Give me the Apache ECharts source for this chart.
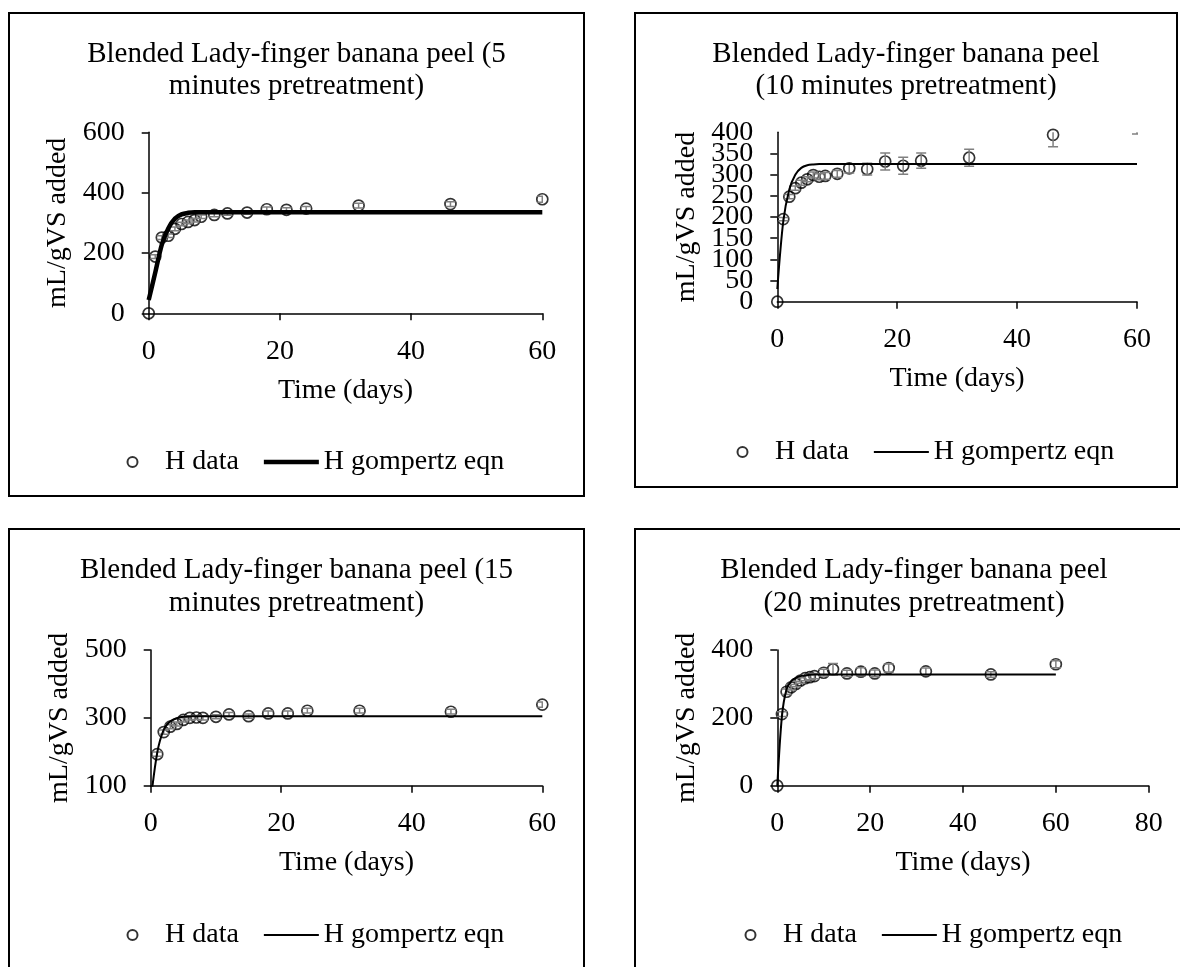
<!DOCTYPE html>
<html>
<head>
<meta charset="utf-8">
<script src="https://cdn.jsdelivr.net/npm/echarts@6/dist/echarts.min.js"></script>
<style>
  html, body { margin: 0; padding: 0; background: #fff; }
  body { width: 1180px; height: 967px; position: relative; overflow: hidden; }
  .panel { position: absolute; }
  .frame { position: absolute; border: 2px solid #000; box-sizing: border-box; pointer-events: none; }
</style>
</head>
<body>
<div id="p1" class="panel" style="left:8px;top:12px;width:577px;height:485px"></div>
<div id="p2" class="panel" style="left:634px;top:12px;width:544px;height:476px"></div>
<div id="p3" class="panel" style="left:8px;top:528px;width:577px;height:460px"></div>
<div id="p4" class="panel" style="left:634px;top:528px;width:560px;height:460px"></div>
<div class="frame" style="left:8px;top:12px;width:577px;height:485px"></div>
<div class="frame" style="left:634px;top:12px;width:544px;height:476px"></div>
<div class="frame" style="left:8px;top:528px;width:577px;height:460px"></div>
<div class="frame" style="left:634px;top:528px;width:560px;height:460px"></div>
<script>
// 取样时间（天）
const days = [0, 1, 2, 3, 4, 5, 6, 7, 8, 10, 12, 15, 18, 21, 24, 32, 46, 60];

// 5 min
const h5    = [0, 188, 251, 257, 280, 296, 303, 309, 320, 326, 331, 334, 345, 343, 347, 357, 362, 378];
const h5Err = [0, 6, 6, 6, 6, 6, 6, 6, 6, 6, 6, 6, 7, 7, 7, 8, 8, 10];
const fit5  = [44, 135, 228, 282, 314, 328, 333, 335, 335, 335, 335, 335, 335, 335, 335, 335, 335, 335];

// 10 min
const h10    = [0, 195, 248, 268, 281, 289, 299, 295, 297, 302, 315, 313, 331, 321, 333, 340, 394, 428];
const h10Err = [0, 4, 5, 5, 6, 6, 7, 7, 8, 8, 11, 14, 20, 20, 18, 20, 28, 32];
const fit10  = [30, 190, 265, 300, 316, 322, 324, 325, 325, 325, 325, 325, 325, 325, 325, 325, 325, 325];

// 15 min
const h15    = [0, 193, 258, 274, 282, 294, 300, 301, 300, 303, 310, 305, 313, 313, 321, 321, 318, 339];
const h15Err = [0, 6, 6, 6, 6, 6, 6, 6, 6, 6, 6, 6, 7, 7, 7, 7, 7, 8];
const fit15  = [55, 197, 265, 290, 299, 303, 304, 305, 305, 305, 305, 305, 305, 305, 305, 305, 305, 305];

// 20 min
const h20    = [0, 211, 277, 290, 300, 310, 317, 320, 323, 333, 343, 331, 336, 331, 347, 337, 328, 358];
const h20Err = [0, 7, 8, 8, 8, 8, 8, 8, 8, 10, 17, 9, 12, 10, 12, 10, 8, 10];
const fit20  = [0, 205, 285, 308, 318, 323, 325, 327, 328, 328, 328, 328, 328, 328, 328, 328, 328, 328];

const FONT = 'Liberation Serif, Times New Roman, serif';
const ERR_COLOR = '#808080';

function errorBars(params, api) {
  const x = api.value(0), y = api.value(1), e = api.value(2);
  if (!e) return;
  const top = api.coord([x, y + e]);
  const bot = api.coord([x, y - e]);
  const cap = 5;
  const style = { stroke: ERR_COLOR, lineWidth: 1.5 };
  return {
    type: 'group',
    children: [
      { type: 'line', shape: { x1: top[0], y1: top[1], x2: bot[0], y2: bot[1] }, style },
      { type: 'line', shape: { x1: top[0] - cap, y1: top[1], x2: top[0] + cap, y2: top[1] }, style },
      { type: 'line', shape: { x1: bot[0] - cap, y1: bot[1], x2: bot[0] + cap, y2: bot[1] }, style },
    ],
  };
}

function axisBase() {
  return {
    type: 'value',
    axisLine: { show: true, lineStyle: { color: '#000', width: 1.5 } },
    axisTick: { show: true, length: 7, lineStyle: { color: '#000', width: 1.5 } },
    splitLine: { show: false },
    nameLocation: 'middle',
    nameTextStyle: { fontFamily: FONT, fontSize: 28, color: '#000' },
  };
}

const labelStyle = { fontFamily: FONT, fontSize: 28, color: '#000', margin: 24 };

function makePanel(id, cfg) {
  const chart = echarts.init(document.getElementById(id));
  const yAxes = [Object.assign(axisBase(), {
    position: 'left',
    min: cfg.yMin, max: cfg.yMax, interval: cfg.yStep,
    name: 'mL/gVS added', nameGap: cfg.yNameGap, nameRotate: 90,
    axisLabel: Object.assign({}, labelStyle, {
      showMinLabel: !cfg.dense, showMaxLabel: !cfg.dense, hideOverlap: false,
    }),
  })];
  if (cfg.dense) {
    // 刻度太密：首尾标签单独用一根轴画，避免被自动隐藏
    yAxes.push({
      type: 'value', position: 'left', offset: 0,
      min: cfg.yMin, max: cfg.yMax, interval: cfg.yMax - cfg.yMin,
      axisLine: { show: false }, axisTick: { show: false }, splitLine: { show: false },
      axisLabel: Object.assign({}, labelStyle, { showMinLabel: true, showMaxLabel: true }),
    });
  }
  chart.setOption({
    animation: false,
    title: {
      text: cfg.title,
      left: 'center',
      top: cfg.titleTop,
      textStyle: { fontFamily: FONT, fontSize: 29, fontWeight: 'normal', color: '#000', lineHeight: cfg.titleLH },
    },
    legend: {
      data: [
        { name: 'H data' },
        { name: 'H gompertz eqn', icon: `path://M0,0H55V${cfg.fitWidth}H0Z` },
      ],
      left: cfg.legendLeft,
      top: cfg.legendTop,
      itemWidth: 55,
      itemHeight: 10,
      itemGap: 25,
      selectedMode: false,
      textStyle: { fontFamily: FONT, fontSize: 28, color: '#000' },
    },
    grid: Object.assign({ outerBoundsMode: 'none', containLabel: false }, cfg.grid),
    xAxis: Object.assign(axisBase(), {
      min: 0, max: cfg.xMax, interval: 20,
      name: 'Time (days)', nameGap: 63,
      axisLabel: Object.assign({}, labelStyle, { showMinLabel: true, showMaxLabel: true }),
    }),
    yAxis: yAxes,
    series: [
      {
        name: 'H data',
        type: 'scatter',
        symbol: 'circle',
        symbolSize: 11,
        clip: true,
        itemStyle: { color: 'transparent', borderColor: '#000', borderWidth: 1.7 },
        data: days.map((d, i) => [d, cfg.values[i]]),
        z: 2,
      },
      {
        name: 'err',
        type: 'custom',
        clip: true,
        renderItem: errorBars,
        encode: { x: 0, y: 1 },
        data: days.map((d, i) => [d, cfg.values[i], cfg.errors[i]]),
        z: 3,
      },
      {
        name: 'H gompertz eqn',
        type: 'line',
        symbol: 'none',
        showSymbol: false,
        smooth: 0.3,
        clip: true,
        lineStyle: { color: '#000', width: cfg.fitWidth },
        itemStyle: { color: '#000' },
        data: days.map((d, i) => [d, cfg.fit[i]]),
        z: 4,
      },
    ],
  });
  return chart;
}

makePanel('p1', {
  title: 'Blended Lady-finger banana peel (5\nminutes pretreatment)',
  titleTop: 21, titleLH: 32,
  grid: { left: 140.7, top: 120.3, width: 393.6, height: 181 },
  xMax: 60, yMin: 0, yMax: 600, yStep: 200, yNameGap: 69,
  legendLeft: 113.5, legendTop: 431,
  values: h5, errors: h5Err, fit: fit5, fitWidth: 4.5,
});

makePanel('p2', {
  title: 'Blended Lady-finger banana peel\n(10 minutes pretreatment)',
  titleTop: 21, titleLH: 32,
  grid: { left: 143.3, top: 120.3, width: 359.7, height: 169.4 },
  xMax: 60, yMin: 0, yMax: 400, yStep: 50, yNameGap: 76, dense: true,
  legendLeft: 97.5, legendTop: 421,
  values: h10, errors: h10Err, fit: fit10, fitWidth: 2,
});

makePanel('p3', {
  title: 'Blended Lady-finger banana peel (15\nminutes pretreatment)',
  titleTop: 20.5, titleLH: 33,
  grid: { left: 142.7, top: 122, width: 391.6, height: 135.7 },
  xMax: 60, yMin: 100, yMax: 500, yStep: 200, yNameGap: 76,
  legendLeft: 113.5, legendTop: 388,
  values: h15, errors: h15Err, fit: fit15, fitWidth: 2,
});

makePanel('p4', {
  title: 'Blended Lady-finger banana peel\n(20 minutes pretreatment)',
  titleTop: 20.5, titleLH: 33,
  grid: { left: 143.3, top: 122, width: 371.4, height: 135.7 },
  xMax: 80, yMin: 0, yMax: 400, yStep: 200, yNameGap: 76,
  legendLeft: 105.5, legendTop: 388,
  values: h20, errors: h20Err, fit: fit20, fitWidth: 2,
});
</script>
</body>
</html>
